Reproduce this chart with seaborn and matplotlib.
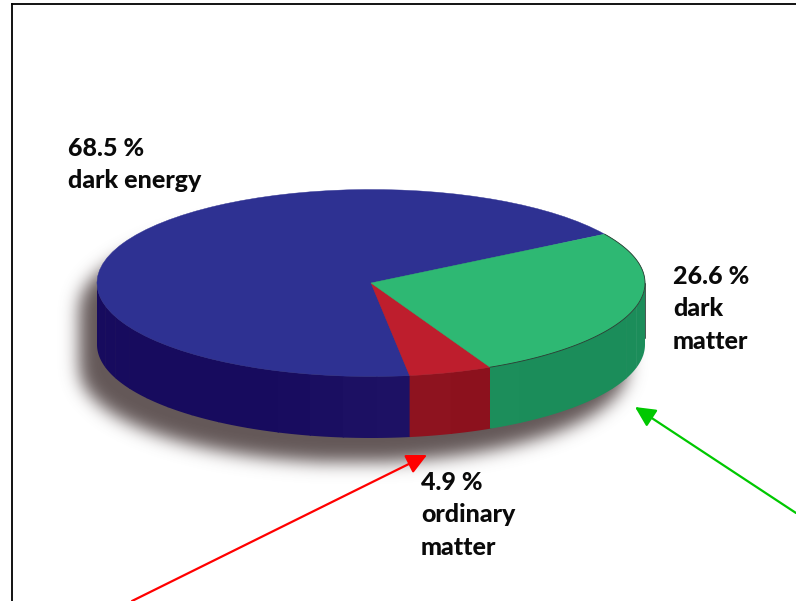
import numpy as np
import matplotlib
matplotlib.use("Agg")
import matplotlib.pyplot as plt
from matplotlib.patches import Polygon
import seaborn as sns

# Composition of the universe, in percent
components = ["dark energy", "ordinary matter", "dark matter"]
shares = [68.5, 4.9, 26.6]
top_colours = ["#2e3192", "#be1e2d", "#2eb873"]
wall_colours = ["#170b5e", "#890e1a", "#1b8d5a"]
label_lines = [["dark energy"], ["ordinary", "matter"], ["dark", "matter"]]
label_anchors = [(68, 156), (421, 490), (673, 284)]

W, H = 796, 601
CX, CY, RX, RY, DEPTH = 371, 283, 274, 93.5, 61.5
FRAME_X, FRAME_Y = 12, 4
FIRST_ANGLE = 31.5
LINE_PITCH = 32.5

sns.set_theme(style="white")
plt.rcParams["font.family"] = ["Lato", "DejaVu Sans"]

fig = plt.figure(figsize=(W / 100, H / 100), dpi=100)
ax = fig.add_axes([FRAME_X / W, 0, (W - FRAME_X) / W, (H - FRAME_Y) / H])


def to_data(px, py):
    """Canvas pixels to the pie's unit-circle coordinates."""
    return (px - CX) / RX, (CY - py) / RY


# Top face: unit circle stretched into an ellipse by the axes limits
wedges, _ = ax.pie(
    shares,
    colors=sns.color_palette(top_colours),
    startangle=FIRST_ANGLE,
    counterclock=True,
    radius=1,
    wedgeprops={"linewidth": 0.3, "zorder": 5},
)
for w, c in zip(wedges, top_colours):
    w.set_edgecolor(c)

drop = DEPTH / RY

# Soft cast shadow under the disc
yy, xx = np.mgrid[0:H, 0:W].astype(float)
sx, sy = xx + 18, yy - 24
disc = ((sx - CX) / RX) ** 2 + ((sy - CY) / RY) ** 2 <= 1
base = ((sx - CX) / RX) ** 2 + ((sy - CY - DEPTH) / RY) ** 2 <= 1
body = (np.abs(sx - CX) <= RX) & (sy >= CY) & (sy <= CY + DEPTH)
mask = (disc | base | body).astype(float)
kx = np.arange(-27, 28)
kernel = np.exp(-kx**2 / (2 * 8.5**2))
kernel /= kernel.sum()
mask = np.apply_along_axis(lambda r: np.convolve(r, kernel, mode="same"), 0, mask)
mask = np.apply_along_axis(lambda r: np.convolve(r, kernel, mode="same"), 1, mask)
rgba = np.zeros((H, W, 4))
rgba[..., :3] = matplotlib.colors.to_rgb("#645858")
rgba[..., 3] = np.clip(mask, 0, 1)
x0, y0 = to_data(0, H)
x1, y1 = to_data(W, 0)
ax.imshow(rgba, extent=(x0, x1, y0, y1), origin="upper", zorder=1, aspect="auto")

# Front wall, faceted so the shading steps along the rim
for w, colour in zip(wedges, wall_colours):
    t1, t2 = w.theta1 % 360, w.theta2 % 360
    if t2 <= t1:
        t2 += 360
    spans = [(max(t1, 180), min(t2, 360)), (max(t1 - 360, 180), min(t2 - 360, 360))]
    rgb = np.array(matplotlib.colors.to_rgb(colour))
    for a, b in spans:
        if b <= a:
            continue
        edges = np.linspace(a, b, max(2, int((b - a) / 7) + 1))
        for e0, e1 in zip(edges[:-1], edges[1:]):
            ang = np.radians(np.linspace(e0, e1 + 0.3, 12))
            xs, ys = np.cos(ang), np.sin(ang)
            lift = 0.022 * np.exp(-((xs.mean() - 0.1) / 0.3) ** 2)
            pts = np.column_stack(
                [np.r_[xs, xs[::-1]], np.r_[ys, ys[::-1] - drop]]
            )
            shade = np.clip(rgb + lift, 0, 1)
            ax.add_patch(Polygon(pts, closed=True, facecolor=shade,
                                 edgecolor="none", zorder=3))

# Thin dark rim around the dark-matter slice and the right-hand edge
g = wedges[2]
ang = np.radians(np.linspace(g.theta1, g.theta2, 120))
ax.plot(np.cos(ang), np.sin(ang), color="#2a3a32", lw=0.6, zorder=6)
ax.plot([1, 1], [0, -drop * 0.9], color="#2a3a32", lw=0.6, zorder=6)

ax.set_aspect("auto")
ax.set_xlim(to_data(FRAME_X, 0)[0], to_data(W, 0)[0])
ax.set_ylim(to_data(0, H)[1], to_data(0, FRAME_Y)[1])

# Percentages with their component names
for share, lines, (lx, ly) in zip(shares, label_lines, label_anchors):
    for i, line in enumerate([f"{share} %"] + lines):
        tx, ty = to_data(lx, ly + i * LINE_PITCH)
        ax.text(tx, ty, line, fontsize=18, fontweight="black", color="#0a0a0a",
                ha="left", va="baseline", zorder=8)

# Pointers running in from the lower edge
for (sx_, sy_), (ex, ey), col in [((132, 601), (427, 455), "#ff0000"),
                                  ((796, 513), (635, 407), "#00c800")]:
    ax.annotate("", xy=to_data(ex, ey), xytext=to_data(sx_, sy_), zorder=9,
                annotation_clip=False,
                arrowprops=dict(arrowstyle="-|>,head_length=0.85,head_width=0.42",
                                mutation_scale=14.5, color=col, lw=1.6,
                                shrinkA=0, shrinkB=0))

# Only the left and top frame lines are kept
ax.set_frame_on(True)
sns.despine(ax=ax, left=False, top=False, right=True, bottom=True)
for side in ("left", "top"):
    ax.spines[side].set_color("black")
    ax.spines[side].set_linewidth(1.3)
ax.set_xticks([])
ax.set_yticks([])

fig.savefig("out.png", dpi=100, facecolor="white")
